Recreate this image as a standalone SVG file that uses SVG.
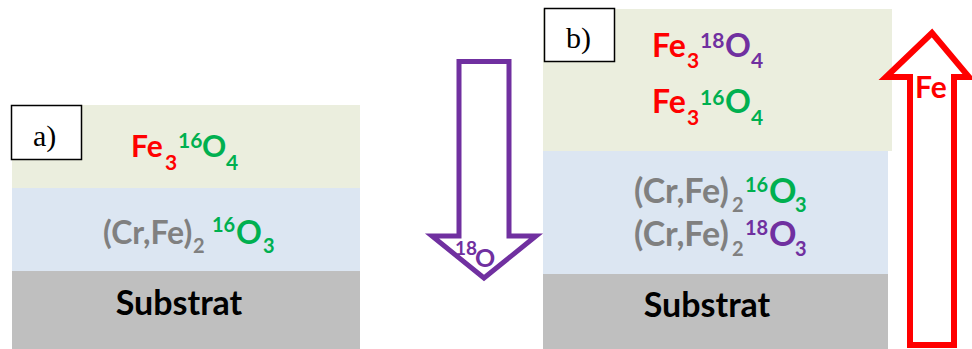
<svg xmlns="http://www.w3.org/2000/svg" width="972" height="349" viewBox="0 0 972 349">
<style>
.t{font-family:Lato,"Open Sans","Liberation Sans",sans-serif;font-weight:bold}
.ma{font-size:30px}
.mb{font-size:32px}
.ca{font-size:32px}
.cb{font-size:34px}
.s{font-size:21px}
.s2{font-size:20px}
.r{fill:#FF0000}
.g{fill:#00B050}
.p{fill:#7030A0}
.k{fill:#808080}
.lbl{font-family:"Liberation Serif","Times New Roman",serif;font-size:30px;fill:#000}
.box{fill:#FFFFFF;stroke:#000;stroke-width:1.5}
.ox{fill:#EBEEDE}
.bl{fill:#DCE6F2}
.gr{fill:#BFBFBF}
.sub{font-size:34px;fill:#000}
</style>
<rect width="972" height="349" fill="#FFFFFF"/>

<g id="panel-a">
  <g id="a-oxide-top">
    <rect class="ox" x="12" y="105" width="348" height="83"/>
    <text class="t"><tspan class="ma r" x="131" y="157">Fe</tspan><tspan class="s r" x="165" y="170">3</tspan><tspan class="s g" x="178" y="148">16</tspan><tspan class="ma g" x="202" y="157">O</tspan><tspan class="s g" x="226" y="170">4</tspan></text>
  </g>
  <g id="a-oxide-inner">
    <rect class="bl" x="12" y="188" width="348" height="83"/>
    <text class="t"><tspan class="ca k" x="103" y="244">(Cr,Fe)</tspan><tspan class="s2 k" x="193" y="253">2</tspan><tspan class="s2 g" x="212" y="232">16</tspan><tspan class="ca g" x="236" y="244">O</tspan><tspan class="s2 g" x="263" y="253">3</tspan></text>
  </g>
  <g id="a-substrate">
    <rect class="gr" x="12" y="271" width="348" height="78"/>
    <text class="t sub" x="179" y="315" text-anchor="middle">Substrat</text>
  </g>
  <g id="a-label">
    <rect class="box" x="11.5" y="105.5" width="70" height="54"/>
    <text class="lbl" x="33" y="146">a)</text>
  </g>
</g>

<g id="panel-b">
  <g id="b-oxide-top">
    <rect class="ox" x="543" y="9" width="349" height="142"/>
    <text class="t"><tspan class="mb r" x="652" y="57">Fe</tspan><tspan class="s r" x="687" y="68">3</tspan><tspan class="s p" x="700" y="48">18</tspan><tspan class="mb p" x="725" y="57">O</tspan><tspan class="s p" x="751" y="68">4</tspan></text>
    <text class="t"><tspan class="mb r" x="652" y="113">Fe</tspan><tspan class="s r" x="687" y="125">3</tspan><tspan class="s g" x="700" y="105">16</tspan><tspan class="mb g" x="725" y="113">O</tspan><tspan class="s g" x="751" y="125">4</tspan></text>
  </g>
  <g id="b-oxide-inner">
    <rect class="bl" x="543" y="151" width="345" height="123"/>
    <text class="t"><tspan class="cb k" x="634" y="203">(Cr,Fe)</tspan><tspan class="s2 k" x="732" y="212">2</tspan><tspan class="s2 g" x="745" y="192">16</tspan><tspan class="cb g" x="769" y="203">O</tspan><tspan class="s2 g" x="795" y="212">3</tspan></text>
    <text class="t"><tspan class="cb k" x="634" y="246">(Cr,Fe)</tspan><tspan class="s2 k" x="732" y="256">2</tspan><tspan class="s2 p" x="745" y="235">18</tspan><tspan class="cb p" x="769" y="246">O</tspan><tspan class="s2 p" x="795" y="256">3</tspan></text>
  </g>
  <g id="b-substrate">
    <rect class="gr" x="543" y="274" width="345" height="75"/>
    <text class="t sub" x="707" y="317" text-anchor="middle">Substrat</text>
  </g>
  <g id="b-label">
    <rect class="box" x="544.5" y="8.5" width="70" height="53"/>
    <text class="lbl" x="566" y="48">b)</text>
  </g>
</g>

<g id="connectors">
  <g id="arrow-18O">
    <polygon points="459,61.5 509,61.5 509,236 536,236 484,278 432,236 459,236" fill="#FFFFFF" stroke="#7030A0" stroke-width="5" stroke-linejoin="miter"/>
    <text class="t p"><tspan x="455" y="255" font-size="19">18</tspan><tspan x="475" y="267" font-size="25">O</tspan></text>
  </g>
  <g id="arrow-Fe">
    <polygon points="932,33 969,77 954,77 954,345 910,345 910,77 886,77" fill="#FFFFFF" stroke="#FF0000" stroke-width="6" stroke-linejoin="miter"/>
    <text class="t r" x="915" y="98" font-size="30">Fe</text>
  </g>
</g>
</svg>
